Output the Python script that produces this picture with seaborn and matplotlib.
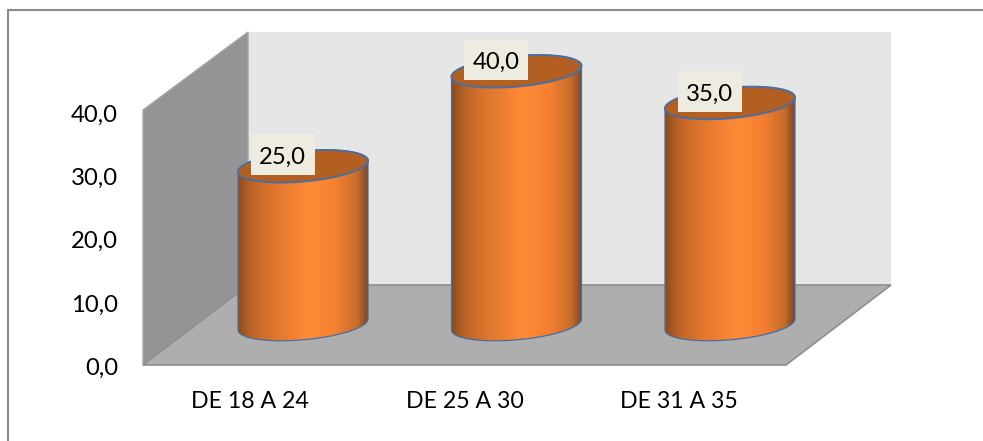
import numpy as np
import pandas as pd
import matplotlib
matplotlib.use("Agg")
import matplotlib.pyplot as plt
from matplotlib.colors import LinearSegmentedColormap
from matplotlib.patches import PathPatch, Polygon, Rectangle
from matplotlib.path import Path
from matplotlib.transforms import Affine2D
import seaborn as sns

categories = ["DE 18 A 24", "DE 25 A 30", "DE 31 A 35"]
values = [25.0, 40.0, 35.0]
y_ticks = [0, 10, 20, 30, 40]

W, H = 983, 441
sns.set_theme(style="white")
plt.rcParams["font.family"] = ["Lato", "DejaVu Sans"]
FS_CAT = 16.7
FS_NUM = 17.2
df = pd.DataFrame({"cat": categories, "val": values})

fig = plt.figure(figsize=(W / 100, H / 100), dpi=100, facecolor="white")


def box(l, t, r, b):
    return [l / W, 1 - b / H, (r - l) / W, (b - t) / H]


# pixel-space backdrop: frame, walls, floor
bg = fig.add_axes([0, 0, 1, 1], zorder=0)
bg.set_xlim(0, W)
bg.set_ylim(H, 0)
bg.axis("off")
bg.plot([8, 8, W], [H, 9.5, 9.5], color="#8A8A8A", lw=1.5, solid_joinstyle="miter")
bg.add_patch(Polygon([(248, 32), (891, 32), (891, 285), (248, 285)], fc="#E6E6E6", ec="none"))
bg.add_patch(Polygon([(143, 110), (248, 32), (248, 285), (143, 365)], fc="#949494", ec="#A6A6A6", lw=1))
bg.add_patch(Polygon([(143, 365), (248, 285), (891, 285), (786, 365)], fc="#AEAEAE", ec="#8E8E8E", lw=1.2))

# front plane: holds the axis ticks
front = fig.add_axes(box(143, 113.5, 786, 366), zorder=1, facecolor="none")
sns.barplot(data=df, x="cat", y="val", ax=front, alpha=0, legend=False)
front.set_xlim(-0.5, 2.5)
front.set_ylim(0, 40)
front.set_yticks(y_ticks, [f"{v:.1f}".replace(".", ",") for v in y_ticks])
front.set_xlabel("")
front.set_ylabel("")
front.tick_params(axis="x", length=0, labelsize=FS_CAT, labelcolor="black", pad=18)
front.tick_params(axis="y", length=0, labelsize=FS_NUM, labelcolor="black", pad=18)
sns.despine(ax=front, left=True, bottom=True)

# cylinders: bars shifted into the depth of the chart
PX = 6.33             # pixels per value unit
ZERO = 324.5          # pixel row of value 0 on the cylinders
ax = fig.add_axes(box(196.25, ZERO - 45 * PX, 836.75, ZERO + 10 * PX), zorder=2, facecolor="none")
BAR_W = 130 / 213.5
sns.barplot(data=df, x="cat", y="val", ax=ax, width=BAR_W, color="#F58233", saturation=1, legend=False)
ax.set_xlim(-0.5, 2.5)
ax.set_ylim(-10, 45)
ax.axis("off")

B = 15.3 / PX         # vertical semi-axis in value units
TILT = 5.5 / PX       # rise of the right rim over the left one
EDGE = "#4A6E9E"
cmap = LinearSegmentedColormap.from_list(
    "cyl", [(0, "#8A4C20"), (0.1, "#BC6428"), (0.28, "#E0762F"), (0.55, "#FF8A36"),
            (0.75, "#F58031"), (0.92, "#C86C2A"), (1, "#7E4620")])
grad = np.linspace(0, 1, 256)[None, :]


def rim(cx, a, y, t):
    return np.c_[cx + a * np.cos(t), y + B * np.sin(t) + TILT * np.cos(t)]


for bar in ax.patches:
    a = bar.get_width() / 2
    cx = bar.get_x() + a
    h = bar.get_height()
    lower = rim(cx, a, 0, np.linspace(np.pi, 2 * np.pi, 80))
    upper = rim(cx, a, h, np.linspace(0, np.pi, 80))
    body = np.vstack([lower, upper, lower[:1]])
    shape = PathPatch(Path(body, closed=True), fc="none", ec=EDGE, lw=0.9, zorder=4)
    ax.add_patch(shape)
    bar.set_clip_path(shape)
    im = ax.imshow(grad, cmap=cmap, vmin=0, vmax=1, aspect="auto", zorder=3, interpolation="bilinear",
                   extent=(cx - a, cx + a, -B - TILT - 1, h + B + TILT))
    im.set_clip_path(shape)
    cap = rim(cx, a, h, np.linspace(0, 2 * np.pi, 160))
    ax.add_patch(Polygon(cap, closed=True, fc="#B45F22", ec=EDGE, lw=1.4, zorder=5))
    anchor = ax.transData.transform((cx, h)) + np.array([-20.5, 11.5])
    ax.add_patch(Rectangle((-32, -20.5), 64, 41, fc="#EEECE1", ec="none", zorder=6,
                           transform=Affine2D().translate(*anchor)))
    ax.annotate(f"{h:.1f}".replace(".", ","), xy=(cx, h), xytext=(-20.5, 9), textcoords="offset pixels",
                ha="center", va="center", fontsize=FS_NUM, color="black", zorder=7)
ax.set_xlim(-0.5, 2.5)
ax.set_ylim(-10, 45)

fig.savefig("out.png", dpi=100, facecolor="white")
